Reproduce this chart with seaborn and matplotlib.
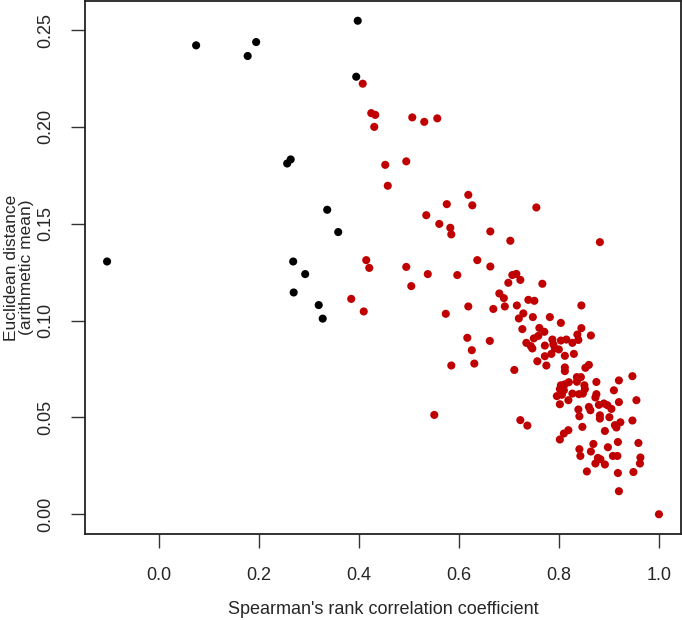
import numpy as np
import pandas as pd
import matplotlib
matplotlib.use("Agg")
import matplotlib.pyplot as plt
import seaborn as sns

sns.set_theme(style="ticks")
plt.rcParams['font.family'] = ['Liberation Sans', 'DejaVu Sans']

# pontos pretos (grupo 1)
black_x = [-0.103, 0.075, 0.178, 0.195, 0.398, 0.395, 0.257, 0.264, 0.337, 0.359,
           0.269, 0.293, 0.270, 0.320, 0.328]
black_y = [0.1305, 0.2421, 0.2366, 0.2438, 0.2548, 0.2259, 0.1811, 0.1832, 0.1572, 0.1457,
           0.1305, 0.1240, 0.1145, 0.1080, 0.1010]

# pontos vermelhos (grupo 2)
red_x = [0.408, 0.425, 0.433, 0.431, 0.507, 0.531, 0.557, 0.453, 0.495, 0.458,
         0.619, 0.576, 0.627, 0.755, 0.535, 0.561, 0.583, 0.585, 0.663, 0.703,
         0.882, 0.415, 0.421, 0.495, 0.538, 0.597, 0.637, 0.663, 0.505, 0.385,
         0.707, 0.715, 0.723, 0.699, 0.767, 0.681, 0.690, 0.739, 0.751, 0.845,
         0.410, 0.574, 0.619, 0.669, 0.692, 0.716, 0.729, 0.720, 0.748, 0.782,
         0.804, 0.845, 0.727, 0.761, 0.771, 0.864, 0.837, 0.839, 0.759, 0.750,
         0.787, 0.804, 0.815, 0.827, 0.735, 0.744, 0.747, 0.772, 0.789, 0.792,
         0.800, 0.785, 0.772, 0.812, 0.830, 0.757, 0.775, 0.617, 0.662, 0.626,
         0.585, 0.631, 0.711, 0.551, 0.723, 0.737, 0.812, 0.812, 0.853, 0.860,
         0.920, 0.947, 0.875, 0.836, 0.844, 0.836, 0.851, 0.852, 0.820, 0.812,
         0.804, 0.802, 0.810, 0.796, 0.806, 0.827, 0.840, 0.848, 0.819, 0.802,
         0.875, 0.873, 0.910, 0.955, 0.920, 0.880, 0.890, 0.897, 0.905, 0.860,
         0.863, 0.839, 0.841, 0.882, 0.882, 0.901, 0.923, 0.947, 0.912, 0.915,
         0.847, 0.892, 0.819, 0.810, 0.802, 0.918, 0.959, 0.869, 0.898, 0.841,
         0.864, 0.843, 0.878, 0.883, 0.873, 0.908, 0.917, 0.963, 0.962, 0.892,
         0.856, 0.918, 0.949, 0.920, 1.000]
red_y = [0.2223, 0.2071, 0.2062, 0.2000, 0.2049, 0.2026, 0.2044, 0.1804, 0.1822, 0.1696,
         0.1649, 0.1601, 0.1595, 0.1584, 0.1544, 0.1499, 0.1479, 0.1445, 0.1460, 0.1412,
         0.1405, 0.1312, 0.1272, 0.1277, 0.1240, 0.1235, 0.1312, 0.1279, 0.1178, 0.1112,
         0.1235, 0.1241, 0.1210, 0.1195, 0.1190, 0.1140, 0.1116, 0.1107, 0.1102, 0.1078,
         0.1047, 0.1035, 0.1073, 0.1060, 0.1073, 0.1078, 0.1037, 0.1011, 0.1018, 0.1018,
         0.0988, 0.0961, 0.0956, 0.0962, 0.0942, 0.0923, 0.0928, 0.0900, 0.0921, 0.0908,
         0.0902, 0.0897, 0.0902, 0.0885, 0.0885, 0.0868, 0.0856, 0.0871, 0.0877, 0.0857,
         0.0851, 0.0828, 0.0816, 0.0818, 0.0828, 0.0790, 0.0768, 0.0911, 0.0895, 0.0847,
         0.0768, 0.0778, 0.0745, 0.0513, 0.0486, 0.0458, 0.0758, 0.0739, 0.0756, 0.0771,
         0.0691, 0.0713, 0.0683, 0.0708, 0.0708, 0.0684, 0.0666, 0.0646, 0.0682, 0.0671,
         0.0666, 0.0646, 0.0640, 0.0610, 0.0617, 0.0623, 0.0620, 0.0623, 0.0589, 0.0568,
         0.0620, 0.0603, 0.0640, 0.0589, 0.0579, 0.0565, 0.0572, 0.0563, 0.0544, 0.0554,
         0.0537, 0.0541, 0.0506, 0.0511, 0.0494, 0.0501, 0.0475, 0.0484, 0.0460, 0.0448,
         0.0451, 0.0430, 0.0434, 0.0417, 0.0386, 0.0373, 0.0368, 0.0363, 0.0346, 0.0336,
         0.0324, 0.0301, 0.0291, 0.0284, 0.0262, 0.0301, 0.0301, 0.0293, 0.0262, 0.0257,
         0.0221, 0.0213, 0.0218, 0.0119, 0.0000]

x_ticks = [0.0, 0.2, 0.4, 0.6, 0.8, 1.0]
y_ticks = [0.00, 0.05, 0.10, 0.15, 0.20, 0.25]

df = pd.DataFrame({
    'rho': black_x + red_x,
    'dist': black_y + red_y,
    'grupo': ['a'] * len(black_x) + ['b'] * len(red_x),
})

fig = plt.figure(figsize=(6.82, 6.2), dpi=100)
ax = fig.add_axes([85 / 682, 86 / 620, 596 / 682, 533 / 620])

sns.scatterplot(data=df, x='rho', y='dist', hue='grupo',
                palette={'a': 'black', 'b': '#c00000'},
                s=34, linewidth=0, legend=False, ax=ax)

# limites estilo R (4% de folga)
xr = df['rho'].max() - df['rho'].min()
yr = df['dist'].max() - df['dist'].min()
ax.set_xlim(df['rho'].min() - 0.04 * xr, df['rho'].max() + 0.04 * xr)
ax.set_ylim(df['dist'].min() - 0.04 * yr, df['dist'].max() + 0.04 * yr)

ax.set_xticks(x_ticks)
ax.set_xticklabels([f"{v:.1f}" for v in x_ticks])
ax.set_yticks(y_ticks)
ax.set_yticklabels([f"{v:.2f}" for v in y_ticks], rotation=90, va='center')

ax.tick_params(axis='both', length=10, width=1, color='#333333', labelsize=13,
               direction='out')
ax.tick_params(axis='x', pad=14)
ax.tick_params(axis='y', pad=12)
for sp in ax.spines.values():
    sp.set_color('#222222')
    sp.set_linewidth(1.3)

ax.set_xlabel("Spearman's rank correlation coefficient", fontsize=13, labelpad=12)
ax.set_ylabel("Euclidean distance\n(arithmetic mean)", fontsize=12.5,
              linespacing=0.95)
ax.yaxis.set_label_coords(-0.086, 0.5)

fig.savefig('out.png', dpi=100)
